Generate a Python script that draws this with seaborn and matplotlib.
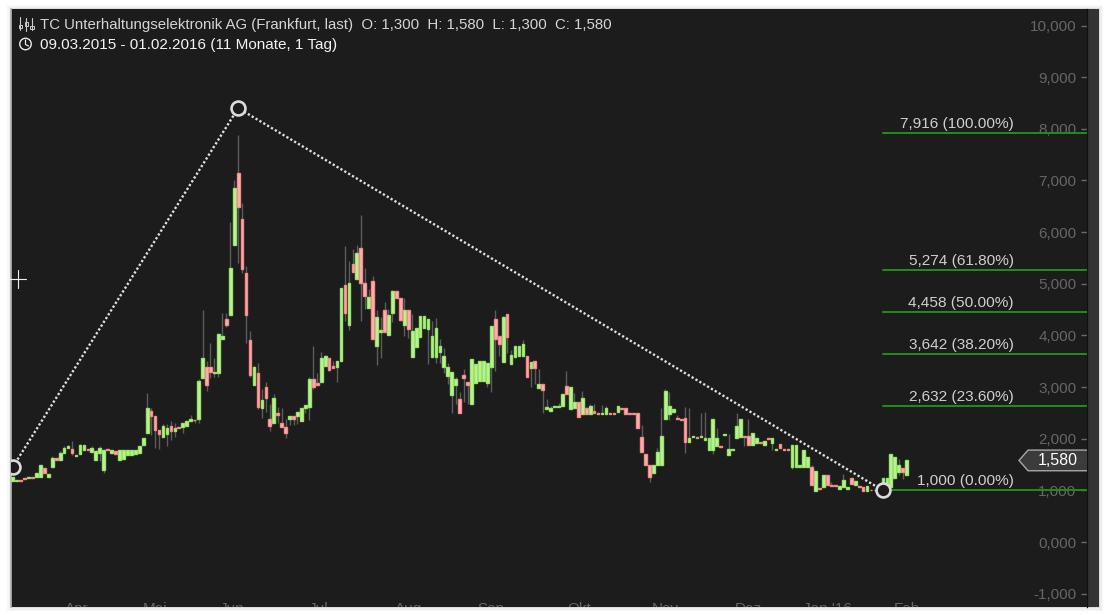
from matplotlib import pyplot as plt, patches
from matplotlib.lines import Line2D
import seaborn as sns
import pandas as pd
import numpy as np

opens = [1.18, 1.18, 1.20, 1.23, 1.23, 1.25, 1.25, 1.25, 1.44, 1.25,
         1.46, 1.62, 1.59, 1.72, 1.83, 1.81, 1.67, 1.71, 1.78, 1.80,
         1.75, 1.59, 1.72, 1.40, 1.80, 1.73, 1.77, 1.59, 1.61, 1.68,
         1.68, 1.70, 1.73, 1.88, 2.12, 2.54, 2.44, 2.17, 2.03, 2.10,
         2.25, 2.14, 2.23, 2.22, 2.25, 2.34, 2.37, 2.39, 3.17, 3.38,
         3.38, 3.28, 3.28, 3.93, 4.31, 4.39, 5.75, 7.14, 6.25, 5.20,
         3.92, 3.04, 3.28, 2.59, 3.00, 2.39, 2.30, 2.50, 2.30, 2.22,
         2.39, 2.44, 2.44, 2.34, 2.59, 2.61, 3.15, 3.08, 3.09, 3.41,
         3.57, 3.41, 3.38, 3.50, 4.98, 4.20, 5.39, 5.10, 5.70, 5.01,
         4.54, 5.06, 3.79, 4.06, 4.50, 4.01, 4.44, 4.86, 4.72, 4.20,
         4.50, 3.59, 3.78, 3.96, 4.14, 4.12, 3.59, 3.59, 3.68, 3.39,
         3.21, 2.84, 3.04, 2.76, 3.24, 3.09, 2.67, 3.08, 3.12, 3.12,
         3.08, 3.39, 4.31, 3.99, 3.49, 4.41, 3.45, 3.59, 3.60, 3.61,
         3.61, 3.37, 3.51, 2.99, 3.05, 2.58, 2.54, 2.61, 2.62, 2.64,
         3.03, 2.58, 2.60, 2.71, 2.48, 2.59, 2.48, 2.54, 2.50, 2.48,
         2.48, 2.49, 2.49, 2.52, 2.59, 2.59, 2.50, 2.50, 2.49, 2.04,
         1.70, 1.49, 1.34, 1.49, 1.50, 2.38, 2.48, 2.52, 2.40, 2.39,
         2.41, 1.94, 2.03, 2.03, 2.03, 1.97, 1.78, 1.78, 1.85, 1.86,
         2.07, 1.68, 1.78, 2.02, 2.04, 2.06, 2.06, 1.88, 1.91, 1.94,
         1.88, 2.01, 1.92, 1.78, 1.89, 1.80, 1.80, 1.45, 1.45, 1.45,
         1.45, 1.45, 1.45, 0.99, 1.05, 1.06, 1.30, 1.10, 1.10, 1.03,
         1.06, 1.03, 1.23, 1.10, 1.08, 1.06, 0.99, 1.01, 1.01, 1.01,
         1.10, 1.07, 1.07, 1.23, 1.35, 1.43, 1.30]
closes = [1.25, 1.20, 1.19, 1.22, 1.25, 1.24, 1.34, 1.50, 1.34, 1.31,
          1.62, 1.59, 1.72, 1.83, 1.86, 1.73, 1.69, 1.88, 1.88, 1.78,
          1.83, 1.77, 1.83, 1.79, 1.78, 1.79, 1.71, 1.79, 1.79, 1.78,
          1.78, 1.79, 1.86, 2.01, 2.59, 2.44, 2.17, 2.09, 2.25, 2.20,
          2.14, 2.20, 2.21, 2.30, 2.35, 2.38, 2.36, 3.12, 3.56, 3.04,
          3.30, 3.30, 4.02, 3.99, 4.20, 5.30, 6.85, 6.49, 5.29, 4.39,
          3.23, 3.38, 2.61, 2.75, 2.78, 2.25, 2.78, 2.45, 2.22, 2.12,
          2.44, 2.39, 2.52, 2.59, 2.65, 3.15, 3.00, 3.04, 3.57, 3.60,
          3.33, 3.36, 3.51, 4.91, 4.43, 5.01, 5.23, 5.59, 5.01, 4.76,
          4.74, 3.93, 4.35, 4.10, 4.06, 4.39, 4.86, 4.73, 4.30, 4.50,
          4.12, 4.09, 4.14, 4.37, 4.37, 4.31, 3.99, 4.14, 3.80, 3.61,
          3.39, 3.30, 3.15, 2.50, 3.18, 3.04, 3.54, 3.44, 3.50, 3.50,
          3.46, 4.19, 3.93, 3.83, 4.36, 3.97, 3.63, 3.80, 3.80, 3.83,
          3.20, 3.48, 3.37, 3.05, 2.94, 2.61, 2.59, 2.63, 2.64, 2.86,
          2.86, 3.01, 2.72, 2.43, 2.78, 2.48, 2.64, 2.49, 2.48, 2.50,
          2.59, 2.48, 2.48, 2.64, 2.57, 2.48, 2.48, 2.48, 2.21, 1.75,
          1.49, 1.25, 1.49, 1.75, 2.06, 2.93, 2.64, 2.57, 2.38, 2.36,
          1.93, 2.01, 2.05, 2.01, 2.05, 2.01, 2.01, 2.39, 2.01, 1.84,
          2.10, 1.80, 1.80, 2.25, 2.39, 2.04, 1.88, 2.12, 2.01, 1.92,
          1.96, 1.99, 2.01, 1.80, 1.83, 1.78, 1.78, 1.88, 1.88, 1.50,
          1.79, 1.64, 1.10, 1.37, 1.03, 1.30, 1.10, 1.08, 1.08, 1.08,
          1.21, 1.06, 1.12, 1.19, 1.06, 0.99, 1.08, 1.00, 1.00, 1.00,
          1.23, 1.23, 1.70, 1.65, 1.50, 1.36, 1.58]
highs = [1.25, 1.20, 1.20, 1.23, 1.25, 1.25, 1.34, 1.50, 1.44, 1.31,
         1.66, 1.62, 1.76, 1.86, 1.88, 1.96, 1.69, 1.90, 1.88, 1.80,
         1.85, 1.79, 1.86, 1.81, 1.80, 1.79, 1.77, 1.79, 1.79, 1.78,
         1.78, 1.79, 1.86, 2.01, 2.88, 2.59, 2.44, 2.17, 2.28, 2.28,
         2.35, 2.30, 2.23, 2.30, 2.35, 2.46, 2.37, 3.16, 4.50, 3.51,
         3.85, 3.56, 4.05, 4.43, 4.43, 6.20, 7.01, 7.89, 6.56, 5.35,
         4.09, 3.40, 3.46, 2.96, 3.09, 2.68, 2.86, 2.62, 2.59, 2.39,
         2.44, 2.44, 2.52, 2.59, 2.65, 3.20, 3.79, 3.28, 3.68, 3.62,
         3.57, 3.51, 3.51, 4.91, 5.74, 5.45, 5.67, 5.76, 6.34, 5.30,
         4.89, 5.16, 4.50, 4.35, 4.65, 4.51, 4.88, 4.86, 4.72, 4.72,
         4.50, 4.41, 4.14, 4.37, 4.37, 4.31, 4.28, 4.33, 3.94, 3.75,
         3.47, 3.30, 3.20, 2.91, 3.35, 3.09, 3.54, 3.44, 3.50, 3.50,
         3.46, 4.19, 4.50, 3.99, 4.38, 4.41, 3.72, 3.80, 3.80, 3.91,
         3.61, 3.48, 3.51, 3.35, 3.05, 2.77, 2.64, 2.63, 2.70, 2.86,
         3.32, 3.01, 2.89, 2.71, 2.92, 2.62, 2.68, 2.68, 2.50, 2.65,
         2.64, 2.49, 2.49, 2.64, 2.59, 2.59, 2.50, 2.50, 2.49, 2.27,
         1.70, 1.49, 1.49, 1.82, 2.60, 2.97, 2.91, 2.57, 2.45, 2.39,
         2.62, 2.60, 2.05, 2.03, 2.49, 2.52, 2.01, 2.39, 2.20, 1.86,
         2.10, 2.09, 1.80, 2.49, 2.39, 2.06, 2.38, 2.12, 2.01, 1.94,
         1.96, 2.01, 2.01, 1.80, 1.89, 1.80, 1.80, 1.88, 1.88, 1.50,
         1.79, 1.64, 1.50, 1.37, 1.05, 1.30, 1.30, 1.17, 1.10, 1.08,
         1.31, 1.06, 1.23, 1.19, 1.08, 1.06, 1.08, 1.01, 1.01, 1.01,
         1.23, 1.23, 1.70, 1.65, 1.60, 1.43, 1.58]
lows = [1.18, 1.18, 1.19, 1.22, 1.23, 1.24, 1.25, 1.25, 1.34, 1.25,
        1.46, 1.59, 1.59, 1.72, 1.83, 1.68, 1.67, 1.71, 1.78, 1.78,
        1.75, 1.59, 1.56, 1.34, 1.78, 1.73, 1.71, 1.59, 1.61, 1.68,
        1.68, 1.70, 1.73, 1.88, 2.12, 2.07, 1.83, 1.80, 2.03, 1.86,
        1.98, 2.03, 2.21, 2.12, 2.25, 2.34, 2.31, 2.30, 3.17, 2.93,
        3.17, 3.20, 3.20, 3.93, 4.16, 4.39, 5.75, 5.41, 5.21, 3.86,
        3.20, 3.04, 2.57, 2.41, 2.52, 2.14, 2.30, 2.30, 2.22, 2.02,
        2.27, 2.27, 2.29, 2.34, 2.50, 2.36, 2.97, 3.04, 3.09, 3.41,
        3.31, 3.36, 3.10, 3.50, 4.27, 4.10, 5.23, 5.10, 4.27, 4.52,
        4.54, 3.93, 3.43, 3.57, 4.06, 4.01, 4.26, 4.73, 4.28, 3.99,
        3.95, 3.59, 3.78, 3.96, 4.14, 3.44, 3.59, 3.46, 3.46, 3.28,
        3.06, 2.50, 2.67, 2.50, 2.72, 2.68, 2.67, 3.08, 3.12, 3.12,
        3.01, 2.91, 3.32, 3.61, 3.49, 3.66, 3.45, 3.59, 3.60, 3.61,
        3.20, 3.01, 3.05, 2.99, 2.50, 2.58, 2.54, 2.61, 2.62, 2.64,
        2.86, 2.58, 2.60, 2.43, 2.48, 2.48, 2.48, 2.49, 2.48, 2.48,
        2.48, 2.48, 2.48, 2.52, 2.57, 2.48, 2.48, 2.48, 2.21, 1.75,
        1.49, 1.17, 1.34, 1.49, 1.50, 2.38, 2.36, 2.52, 2.38, 2.36,
        1.73, 1.94, 2.03, 2.01, 2.03, 1.97, 1.78, 1.70, 1.85, 1.84,
        2.07, 1.68, 1.78, 2.02, 2.04, 1.85, 1.88, 1.88, 1.91, 1.92,
        1.88, 1.99, 1.78, 1.78, 1.83, 1.78, 1.78, 1.41, 1.45, 1.45,
        1.45, 1.45, 1.10, 0.99, 1.03, 1.06, 1.10, 1.08, 1.08, 1.03,
        1.06, 1.03, 1.12, 1.10, 1.06, 0.99, 0.99, 1.00, 1.00, 1.00,
        1.10, 1.07, 1.07, 1.23, 1.30, 1.22, 1.30]

fib_levels = [7.916, 5.274, 4.458, 3.642, 2.632, 1.000]
fib_labels = ["7,916 (100.00%)", "5,274 (61.80%)", "4,458 (50.00%)",
              "3,642 (38.20%)", "2,632 (23.60%)", "1,000 (0.00%)"]
trend_x = [0, 57, 220]
trend_y = [1.45, 8.40, 1.00]
y_ticks = [-1, 0, 1, 2, 3, 4, 5, 6, 7, 8, 9, 10]
month_labels = ["Apr", "Mai", "Jun", "Jul", "Aug", "Sep", "Okt", "Nov", "Dez", "Jan '16", "Feb"]
month_pos = [16.3, 36, 55.5, 77.4, 100.2, 120.9, 143.2, 165, 186.1, 206, 226]
last_price = 1.58

BG = "#1c1c1c"
UP_FACE, UP_EDGE = "#c4f2a4", "#96e468"
DOWN_FACE, DOWN_EDGE = "#ffb6b6", "#f58a8a"

sns.set_theme(style="dark")
plt.rcParams['font.family'] = ['Liberation Sans', 'DejaVu Sans']

fig = plt.figure(figsize=(11.07, 6.15), dpi=100, facecolor="white")
W, H = 1107, 615

# soft shadow round the window
for pad, col in ((4, "#f7f7f7"), (2.5, "#eeeeee"), (1, "#dddddd")):
    fig.add_artist(patches.Rectangle(((11 - pad)/W, (8 - pad)/H), (1088 + 2*pad)/W, (598 + 2*pad)/H,
                                     transform=fig.transFigure, fc=col, ec="none", zorder=-5))
fig.add_artist(patches.Rectangle((1087/W, 8/H), 12/W, 598/H, transform=fig.transFigure,
                                 fc="#333333", ec="none", zorder=-4))

ax = fig.add_axes([11/W, 8/H, 1076/W, 598/H], facecolor=BG)

df = pd.DataFrame({"session": np.arange(len(opens)), "open": opens, "close": closes,
                   "high": highs, "low": lows})
df["body"] = (df["close"] - df["open"]).abs()
df["bottom"] = df[["open", "close"]].min(axis=1)

ax.vlines(df["session"], df["low"], df["high"], color="#5c5c5c", lw=1.0, zorder=2)

for rising, face, edge in ((True, UP_FACE, UP_EDGE), (False, DOWN_FACE, DOWN_EDGE)):
    part = df[(df["close"] >= df["open"]) == rising]
    sns.barplot(data=part, x="session", y="body", bottom=part["bottom"].values, native_scale=True,
                width=0.68, color=face, saturation=1, edgecolor=edge, linewidth=1.0,
                errorbar=None, ax=ax, zorder=3)

xmax = 271.6
for level, label in zip(fib_levels, fib_labels):
    sns.lineplot(x=[220, xmax], y=[level, level], color="#1f8f1a", linewidth=1.4, ax=ax,
                 zorder=4, errorbar=None)
    ax.annotate(label, xy=(253.1, level), xytext=(0, 1.5), textcoords="offset points",
                ha="right", va="bottom", color="#cfcfcf", fontsize=11.1, zorder=6)

sns.lineplot(x=trend_x, y=trend_y, sort=False, estimator=None, color="#e0e0e0", linewidth=1.7,
             linestyle=(0, (0.95, 0.95)), ax=ax, zorder=5)
sns.scatterplot(x=trend_x, y=trend_y, s=100, facecolor=BG, edgecolor="#dcdcdc", linewidth=1.9,
                ax=ax, zorder=7)

# price tag on the right edge
ax.fill([254.4, 256.7, xmax + 1, xmax + 1, 256.7], [last_price, last_price + 0.2, last_price + 0.2,
        last_price - 0.2, last_price - 0.2], fc="#3b3b3b", ec="#a8a8a8", lw=1, zorder=6)
ax.text(264.2, last_price, "1,580", ha="center", va="center", color="white", fontsize=11.5, zorder=7)

# month labels are cut off by the bottom edge of the window
for pos, label in zip(month_pos, month_labels):
    ax.text(pos, -1.17, label, ha="center", va="top", color="#666666", fontsize=11, clip_on=True)

ax.set_xlim(-0.43, xmax)
ax.set_ylim(-1.258, 10.32)
ax.set_xticks([])
ax.set_xlabel("")
ax.set_ylabel("")
ax.yaxis.tick_right()
ax.set_yticks(y_ticks)
ax.set_yticklabels([f"{v:.3f}".replace(".", ",") for v in y_ticks], ha="right")
ax.tick_params(axis="y", direction="in", length=4.2, width=1, color="#6a6a6a", labelcolor="#666666",
               labelsize=11, pad=-7.6, right=True)
ax.grid(False)
for side in ("top", "bottom"):
    ax.spines[side].set_visible(False)
ax.spines["right"].set_visible(True)
ax.spines["right"].set_color("#101010")
ax.spines["right"].set_linewidth(0.9)
ax.spines["left"].set_visible(True)
ax.spines["left"].set_color("#b5b5b5")
ax.spines["left"].set_linewidth(1.2)

# header
fig.text(40/W, 1 - 24.5/H, "TC Unterhaltungselektronik AG (Frankfurt, last)  O: 1,300  H: 1,580  L: 1,300  C: 1,580",
         color="#d4d4d4", fontsize=10.8, va="center", ha="left")
fig.text(40/W, 1 - 44.5/H, "09.03.2015 - 01.02.2016 (11 Monate, 1 Tag)",
         color="#f4f4f4", fontsize=11, va="center", ha="left")

# header icons
fig.add_artist(patches.Ellipse((25.5/W, 1 - 44/H), 11.5/W, 11.5/H, transform=fig.transFigure,
                               fc="none", ec="#e8e8e8", lw=1))
fig.add_artist(Line2D([25.5/W, 25.5/W, 28.5/W], [1 - 40/H, 1 - 44.5/H, 1 - 46/H],
                      transform=fig.transFigure, color="#e8e8e8", lw=0.9))
for px, low, top, by, bh in ((20, 17, 30, 25, 3), (26, 18, 31, 22, 4), (32, 18, 30, 26, 3)):
    fig.add_artist(Line2D([px/W, px/W], [1 - top/H, 1 - low/H], transform=fig.transFigure,
                          color="#cccccc", lw=0.8))
    fig.add_artist(patches.Rectangle(((px - 1.5)/W, 1 - (by + bh)/H), 3/W, bh/H,
                                     transform=fig.transFigure, fc=BG, ec="#cccccc", lw=0.7))

# mouse cross on the left edge
fig.add_artist(Line2D([9/W, 26/W], [1 - 279/H, 1 - 279/H], transform=fig.transFigure, color="#f0f0f0", lw=0.8))
fig.add_artist(Line2D([17.5/W, 17.5/W], [1 - 270/H, 1 - 288/H], transform=fig.transFigure, color="#f0f0f0", lw=0.8))

fig.savefig("out.png", dpi=100, facecolor="white")
